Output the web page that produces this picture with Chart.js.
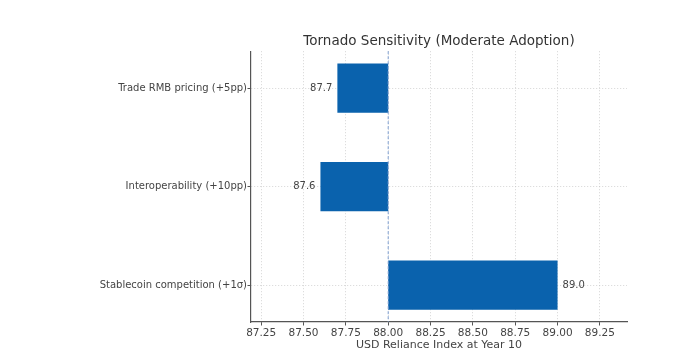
<!DOCTYPE html>
<html>
<head>
<meta charset="utf-8">
<script src="https://cdn.jsdelivr.net/npm/chart.js@4"></script>
<style>
  body { margin: 0; background: #fff; }
  #wrap { width: 673px; height: 358px; }
</style>
</head>
<body>
<div id="wrap"><canvas id="tornado"></canvas></div>
<script>
// sensitivity cases, top to bottom
var categories = ['Trade RMB pricing (+5pp)', 'Interoperability (+10pp)', 'Stablecoin competition (+1\u03c3)']
var baseline = 88.0
var shocked = [87.7, 87.6, 89.0]

var xMin = 87.19
var xMax = 89.41

var barData = []
for (var i = 0; i < categories.length; i++) {
    barData.push({ x: [baseline, shocked[i]], y: i })
}

// dashed reference line at the baseline
var baselinePlugin = {
    id: 'baselineLine',
    afterDatasetsDraw: function (chart) {
        var ctx = chart.ctx
        var x = chart.scales.x.getPixelForValue(baseline)
        ctx.save()
        ctx.strokeStyle = '#7f9fd0'
        ctx.lineWidth = 1
        ctx.setLineDash([3, 2])
        ctx.beginPath()
        ctx.moveTo(x, chart.chartArea.top)
        ctx.lineTo(x, chart.chartArea.bottom)
        ctx.stroke()
        ctx.restore()
    }
}

// value labels at the end of each bar
var valueLabels = {
    id: 'valueLabels',
    afterDraw: function (chart) {
        var ctx = chart.ctx
        var xs = chart.scales.x
        var meta = chart.getDatasetMeta(0)
        ctx.save()
        ctx.font = '10px "DejaVu Sans"'
        ctx.fillStyle = '#444'
        ctx.textBaseline = 'middle'
        meta.data.forEach(function (bar, idx) {
            var v = shocked[idx]
            var px = xs.getPixelForValue(v)
            if (v < baseline) {
                ctx.textAlign = 'right'
                ctx.fillText(v.toFixed(1), px - 5, bar.y)
            } else {
                ctx.textAlign = 'left'
                ctx.fillText(v.toFixed(1), px + 5, bar.y)
            }
        })
        ctx.restore()
    }
}

var gridOpts = {
    color: 'rgba(185,185,185,0.6)',
    offset: false,
    tickColor: '#555',
    tickBorderDash: [],
    tickLength: 3.5
}

const config = {
    type: 'bar',
    data: {
        datasets: [{
            data: barData,
            backgroundColor: '#0a62ad',
            borderWidth: 0,
            barPercentage: 0.5,
            categoryPercentage: 1
        }]
    },
    options: {
        indexAxis: 'y',
        responsive: true,
        maintainAspectRatio: false,
        animation: false,
        layout: { padding: { left: 0, right: 46, top: 0, bottom: 0 } },
        plugins: {
            legend: { display: false },
            tooltip: { enabled: false },
            title: {
                display: true,
                fullSize: false,
                text: 'Tornado Sensitivity (Moderate Adoption)',
                color: '#333',
                font: { family: 'DejaVu Sans', size: 13.5, weight: 'normal' },
                padding: { top: 33, bottom: 2 }
            }
        },
        scales: {
            x: {
                type: 'linear',
                min: xMin,
                max: xMax,
                offset: false,
                z: 1,
                afterFit: function (s) { s.height = 36 },
                border: { display: true, color: '#555', width: 1.2, dash: [1, 2] },
                grid: gridOpts,
                ticks: {
                    stepSize: 0.25,
                    includeBounds: false,
                    autoSkip: false,
                    maxRotation: 0,
                    padding: 1.5,
                    color: '#444',
                    font: { family: 'DejaVu Sans', size: 10.5 },
                    callback: function (v) { return v.toFixed(2) }
                },
                title: {
                    display: true,
                    text: 'USD Reliance Index at Year 10',
                    color: '#444',
                    font: { family: 'DejaVu Sans', size: 11 },
                    padding: { top: 0, bottom: 6 }
                }
            },
            y: {
                type: 'linear',
                reverse: true,
                min: -0.375,
                max: 2.375,
                offset: false,
                z: 1,
                afterFit: function (s) { s.width = 251 },
                border: { display: true, color: '#555', width: 1.2, dash: [1, 2] },
                grid: gridOpts,
                ticks: {
                    stepSize: 1,
                    includeBounds: false,
                    autoSkip: false,
                    padding: 0.5,
                    color: '#444',
                    font: { family: 'DejaVu Sans', size: 10 },
                    callback: function (v) {
                        return Number.isInteger(v) ? categories[v] : ''
                    }
                }
            }
        }
    },
    plugins: [baselinePlugin, valueLabels]
}

new Chart(document.getElementById('tornado'), config)
</script>
</body>
</html>
